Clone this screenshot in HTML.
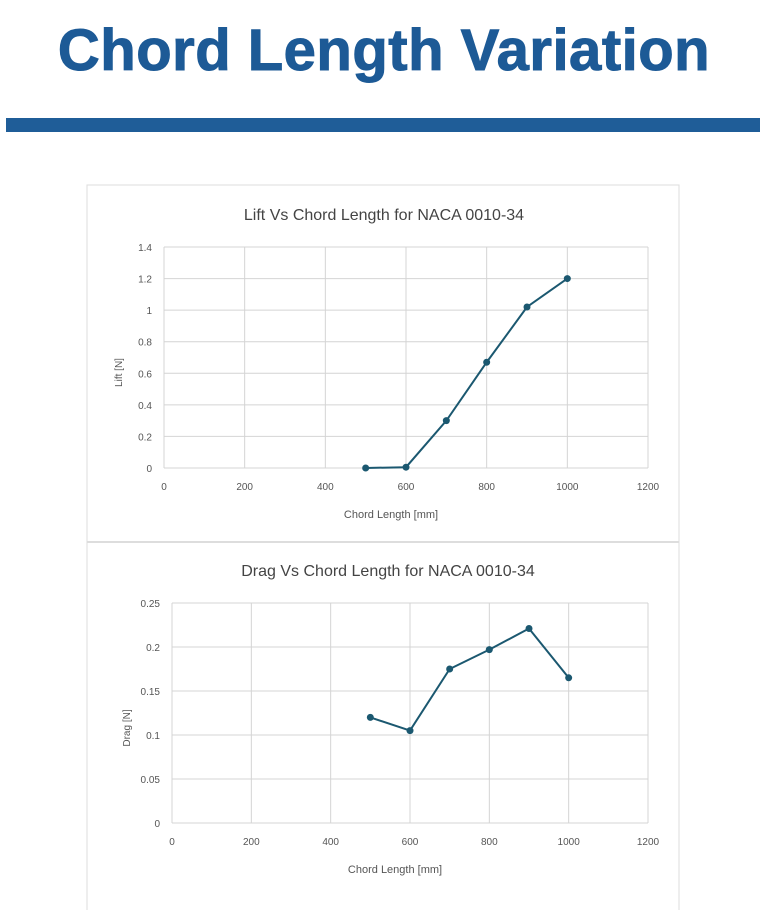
<!DOCTYPE html>
<html><head><meta charset="utf-8">
<style>
html,body{margin:0;padding:0;background:#fff;width:768px;height:910px;overflow:hidden;font-family:"Liberation Sans",sans-serif;}
#title{position:absolute;left:0;top:18px;width:768px;text-align:center;font-size:58px;line-height:66px;font-weight:bold;color:#1d5a96;letter-spacing:0.5px;-webkit-text-stroke:1px #1d5a96;}
#bar{position:absolute;left:6px;top:118px;width:754px;height:14px;background:#1f5d98;}
svg{position:absolute;left:0;top:0;}
</style></head><body>
<div id="title">Chord Length Variation</div>
<div id="bar"></div>
<svg id="svg" width="768" height="910">
<rect x="87" y="185" width="592" height="740" fill="#fff" stroke="#ddd"/>
<line x1="87" y1="542" x2="679" y2="542" stroke="#ddd" stroke-width="2"/>
</svg>
<script>
const xTicks=[0,200,400,600,800,1000,1200];
const liftX=[500,600,700,800,900,1000];
const liftY=[0,0.005,0.3,0.67,1.02,1.2];
const liftYTicks=[0,0.2,0.4,0.6,0.8,1,1.2,1.4];
const dragX=[500,600,700,800,900,1000];
const dragY=[0.12,0.105,0.175,0.197,0.221,0.165];
const dragYTicks=[0,0.05,0.1,0.15,0.2,0.25];
const svg=document.getElementById('svg');
const NS='http://www.w3.org/2000/svg';
function mk(tag,attrs,txt){const e=document.createElementNS(NS,tag);for(const k in attrs)e.setAttribute(k,attrs[k]);if(txt!==undefined)e.textContent=txt;svg.appendChild(e);return e;}
function chart(cfg){
 const sx=v=>cfg.x0+(v-0)/(1200)*(cfg.x1-cfg.x0);
 const sy=v=>cfg.y0-(v-0)/(cfg.ymax)*(cfg.y0-cfg.y1);
 let t=mk('text',{x:(cfg.x0+cfg.x1)/2-22,y:cfg.ty,'text-anchor':'middle','font-size':16,fill:'#444'},cfg.title);
 
 
 cfg.yt.forEach(v=>{
  const l=mk('line',{x1:cfg.x0,x2:cfg.x1,y1:sy(v),y2:sy(v),stroke:'#d4d4d4'});
  
  
  const tx=mk('text',{x:cfg.x0-12,y:sy(v)+4,'text-anchor':'end','font-size':10,fill:'#555'},String(v));
  
  
 });
 xTicks.forEach(v=>{
  const l=mk('line',{x1:sx(v),x2:sx(v),y1:cfg.y1,y2:cfg.y0,stroke:'#d4d4d4'});
  
  
  const tx=mk('text',{x:sx(v),y:cfg.y0+22,'text-anchor':'middle','font-size':10,fill:'#555'},String(v));
  
  
 });
 const xl=mk('text',{x:(cfg.x0+cfg.x1)/2-15,y:cfg.y0+50,'text-anchor':'middle','font-size':11,fill:'#555'},'Chord Length [mm]');
 
 
 const yc=(cfg.y0+cfg.y1)/2+15;
 const yl=mk('text',{x:cfg.x0-42,y:yc,'text-anchor':'middle','font-size':10,fill:'#555',transform:'rotate(-90 '+(cfg.x0-42)+' '+yc+')'},cfg.ylab);
 
 
 const pts=cfg.xs.map((x,i)=>sx(x)+','+sy(cfg.ys[i])).join(' ');
 const pl=mk('polyline',{points:pts,fill:'none',stroke:'#1b5870','stroke-width':2});
 
 
 cfg.xs.forEach((x,i)=>{
  const c=mk('circle',{cx:sx(x),cy:sy(cfg.ys[i]),r:3.5,fill:'#1b5870'});
  
  
 });
}
chart({id:'lift-chart',title:'Lift Vs Chord Length for NACA 0010-34',x0:164,x1:648,y0:468,y1:247,ymax:1.4,yt:liftYTicks,xs:liftX,ys:liftY,ty:220,ylab:'Lift [N]'});
chart({id:'drag-chart',title:'Drag Vs Chord Length for NACA 0010-34',x0:172,x1:648,y0:823,y1:603,ymax:0.25,yt:dragYTicks,xs:dragX,ys:dragY,ty:576,ylab:'Drag [N]'});
</script>
</body></html>
